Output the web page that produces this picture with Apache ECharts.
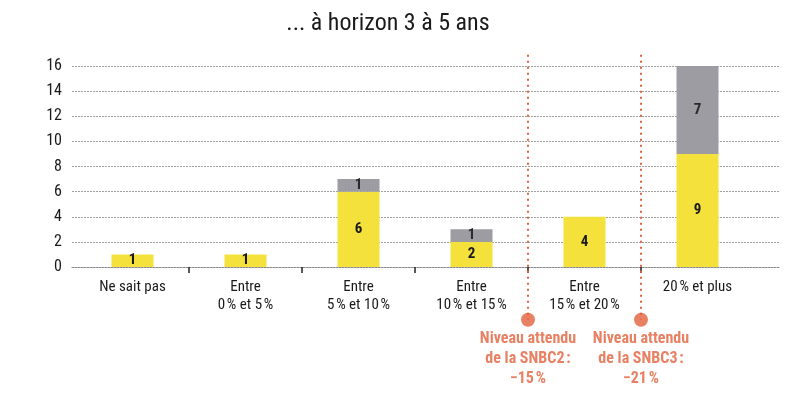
<!DOCTYPE html>
<html><head><meta charset="utf-8">
<script src="https://cdn.jsdelivr.net/npm/echarts@6/dist/echarts.min.js"></script>
<style>html,body{margin:0;padding:0;background:#fff}#c{width:812px;height:395px}</style>
</head><body><div id="c"></div>
<script>
const categories = ['Ne sait pas', 'Entre\n0\u202F% et 5\u202F%', 'Entre\n5\u202F% et 10\u202F%', 'Entre\n10\u202F% et 15\u202F%', 'Entre\n15\u202F% et 20\u202F%', '20\u202F% et plus'];
const yellowValues = [1, 1, 6, 2, 4, 9];
const grayValues = [0, 0, 1, 1, 0, 7];
const yTicks = [0, 2, 4, 6, 8, 10, 12, 14, 16];
const annotationPositions = [3.5, 4.5];
const annotationTexts = ['Niveau attendu\nde la SNBC2\u202F:\n\u221215\u202F%', 'Niveau attendu\nde la SNBC3\u202F:\n\u221221\u202F%'];
const titleText = '... à horizon 3 à 5 ans';

const FONT = '"Liberation Sans Narrow", "Roboto Condensed", Roboto, sans-serif';
const RED = '#e2623c';
const lineTop = 16.9, lineBottom = -4.2;

const chart = echarts.init(document.getElementById('c'), null, {renderer: 'canvas'});
const annSeries = [];
annotationPositions.forEach((x, i) => {
  annSeries.push({
    type: 'line', xAxisIndex: 1, yAxisIndex: 0, clip: false, silent: true,
    symbol: 'none', data: [[x, lineTop], [x, lineBottom]],
    lineStyle: {color: RED, width: 2, type: [2, 4]}, z: 1
  });
  annSeries.push({
    type: 'scatter', xAxisIndex: 1, yAxisIndex: 0, clip: false, silent: true,
    symbol: 'circle', symbolSize: 14, data: [[x, lineBottom]],
    itemStyle: {color: RED},
    label: {show: true, position: 'bottom', distance: 2, formatter: annotationTexts[i],
      color: RED, fontFamily: FONT, fontWeight: 'bold', fontSize: 16, lineHeight: 20, align: 'center'},
    z: 3
  });
});

chart.setOption({
  animation: false,
  title: {text: titleText, left: 383, top: 7, textAlign: 'center',
    textStyle: {fontFamily: FONT, fontWeight: 'normal', fontSize: 24, color: '#1a1a1a'}},
  grid: [
    {left: 76, right: 58, top: 66, bottom: 128},
    {left: 72, right: 32, top: 66, bottom: 128}
  ],
  xAxis: [
    {type: 'category', gridIndex: 0, data: categories, boundaryGap: true,
      axisLine: {show: false}, axisTick: {show: false},
      axisLabel: {color: '#1a1a1a', fontFamily: FONT, fontSize: 15, lineHeight: 18, margin: 11, interval: 0}},
    {type: 'value', gridIndex: 0, min: -0.5, max: 5.5, position: 'bottom',
      axisLine: {show: false}, axisLabel: {show: false}, splitLine: {show: false},
      axisTick: {show: true, length: 6, inside: false, customValues: annotationPositions.concat([0.5, 1.5, 2.5]),
        lineStyle: {color: '#222', width: 1.5}}},
    {type: 'value', gridIndex: 1, min: 0, max: 1, show: true,
      axisLine: {show: true, lineStyle: {color: '#888', type: [2, 1], width: 1}},
      axisTick: {show: false}, axisLabel: {show: false}, splitLine: {show: false}}
  ],
  yAxis: [
    {type: 'value', gridIndex: 0, min: 0, max: 16, interval: 2, show: false},
    {type: 'value', gridIndex: 1, min: yTicks[0], max: yTicks[yTicks.length - 1], interval: 2,
      axisLine: {show: false}, axisTick: {show: false},
      axisLabel: {color: '#1a1a1a', fontFamily: FONT, fontSize: 16, margin: 10},
      splitLine: {show: true, lineStyle: {color: '#a0a0a0', type: [2, 1], width: 1}}}
  ],
  series: [
    {type: 'bar', xAxisIndex: 0, yAxisIndex: 0, stack: 'a', data: yellowValues, barWidth: 42,
      itemStyle: {color: '#f4e13c'}, z: 2,
      label: {show: true, position: 'inside', formatter: p => p.value ? String(p.value) : '',
        color: '#1a1a1a', fontFamily: FONT, fontWeight: 'bold', fontSize: 15}},
    {type: 'bar', xAxisIndex: 0, yAxisIndex: 0, stack: 'a', data: grayValues, barWidth: 42,
      itemStyle: {color: '#9d9ca2'}, z: 2,
      label: {show: true, position: 'inside', formatter: p => p.value ? String(p.value) : '',
        color: '#2a2a2a', fontFamily: FONT, fontWeight: 'bold', fontSize: 15}}
  ].concat(annSeries)
});
</script></body></html>
